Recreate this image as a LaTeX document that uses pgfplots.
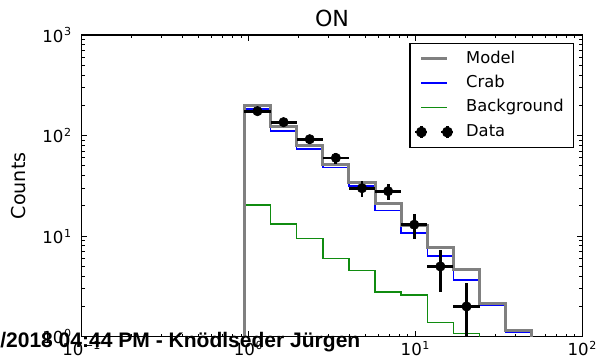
\documentclass[border=0pt]{standalone}
\usepackage{fontspec}
\setmainfont{DejaVu Sans}
\newfontfamily\wmfont{Liberation Sans}
\usepackage{pgfplots}
\pgfplotsset{compat=1.18}
\definecolor{mgray}{RGB}{128,128,128}
\definecolor{mblue}{RGB}{0,0,255}
\definecolor{mgreen}{RGB}{16,140,16}
\newcommand{\tl}[1]{\fontsize{12}{14}\selectfont 10\kern0.4pt\textsuperscript{#1}}
\pgfplotsset{
  legmodel/.style={legend image code/.code={\draw[mgray, line width=2.2bp] (0bp,0bp)--(18.7bp,0bp); \path (0bp,0bp) (23bp,0bp);}},
  legcrab/.style={legend image code/.code={\draw[mblue, line width=1.2bp] (0bp,0bp)--(18.7bp,0bp); \path (0bp,0bp) (23bp,0bp);}},
  legbg/.style={legend image code/.code={\draw[mgreen, line width=1.2bp] (0bp,0bp)--(18.7bp,0bp); \path (0bp,0bp) (23bp,0bp);}},
  legdata/.style={legend image code/.code={
    \draw[overlay, black, line width=1.6bp] (-4.3bp,0bp)--(4.3bp,0bp) (0bp,-4.3bp)--(0bp,4.3bp) (14.4bp,0bp)--(23bp,0bp) (18.7bp,-4.3bp)--(18.7bp,4.3bp);
    \fill[overlay, black] (0bp,0bp) circle[radius=3.4bp] (18.7bp,0bp) circle[radius=3.4bp];
    \path (0bp,0bp) (23bp,0bp);}},
}

\pgfplotstableread{
x y
0.9441 0.9
0.9441 198
1.3537 122
1.9419 80.5
2.7855 51.8
3.9945 34.3
5.7280 20.9
8.2147 12.7
11.783 7.67
16.898 4.68
24.235 2.16
34.754 1.15
49.839 1.15
49.839 0.9
}\modeltab

\pgfplotstableread{
x y
0.9441 0.9
0.9441 184
1.3537 111.5
1.9419 73.5
2.7855 48.0
3.9945 31.5
5.7280 17.9
8.2147 10.7
11.783 6.37
16.898 3.68
24.235 2.08
34.754 1.10
49.839 1.10
49.839 0.9
}\crabtab

\pgfplotstableread{
x y
0.9441 0.9
0.9441 20.4
1.3537 13.2
1.9419 9.5
2.7855 6.02
3.9945 4.54
5.7280 2.78
8.2147 2.60
11.783 1.38
16.898 1.08
24.235 0.5
34.754 0.2
49.839 0.2
}\bgtab

\pgfplotstableread{
x y exm exp eym eyp
1.1305 175 0.1864 0.2232 13.23 13.23
1.6214 136 0.2677 0.3205 11.66 11.66
2.3255 92  0.3836 0.4600 9.59 9.59
3.3355 60  0.5500 0.6590 7.75 7.75
4.7836 30  0.7891 0.9444 5.48 5.48
6.8613 28  1.1333 1.3534 5.29 5.29
9.8379 13  1.6232 1.9451 3.61 3.61
14.111 5   2.328  2.787  2.24 2.24
20.237 2   3.339  3.998  1.41 1.41
}\datatab

\begin{document}
\begin{tikzpicture}
\path[use as bounding box] (-58.8bp,-18.9bp) rectangle (372.4bp,242.4bp);
\begin{axis}[
  scale only axis, width=360.4bp, height=217.2bp,
  xmode=log, ymode=log,
  xmin=0.1, xmax=100, ymin=1, ymax=1000,
  xtick={0.1,1,10,100},
  xticklabels={\tl{−1},\tl{0},\tl{1},\tl{2}},
  ytick={1,10,100,1000},
  yticklabels={\tl{0},\tl{1},\tl{2},\tl{3}},
  yticklabel style={xshift=-3.6bp},
  minor xtick={0.2,0.3,0.4,0.5,0.6,0.7,0.8,0.9,2,3,4,5,6,7,8,9,20,30,40,50,60,70,80,90},
  minor ytick={2,3,4,5,6,7,8,9,20,30,40,50,60,70,80,90,200,300,400,500,600,700,800,900},
  major tick length=4bp, minor tick length=2.2bp,
  every tick/.style={black, line width=0.6bp},
  axis line style={line width=1bp},
  legend cell align=left,
  legend style={at={(axis description cs:0.9834,0.9747)}, anchor=north east, draw=black, line width=1bp, fill=white,
    font=\fontsize{11.8}{14}\selectfont, row sep=6.6bp, inner xsep=7bp, inner ysep=5.6bp,
    nodes={inner sep=0pt, text height=8.6bp, text depth=2.4bp},
    /tikz/every odd column/.append style={column sep=8.7bp}},
]
\addlegendimage{legmodel}
\addlegendentry{Model}
\addlegendimage{legcrab}
\addlegendentry{Crab}
\addlegendimage{legbg}
\addlegendentry{Background}
\addlegendimage{legdata}
\addlegendentry{Data}

\addplot[mblue, line width=1.1bp, const plot, forget plot] table[x=x,y=y] {\crabtab};
\addplot[mgreen, line width=1.1bp, const plot, forget plot] table[x=x,y=y] {\bgtab};
\addplot[mgray, line width=2.2bp, const plot, forget plot] table[x=x,y=y] {\modeltab};
\addplot[black, only marks, mark=*, mark size=3.4bp, forget plot,
  error bars/.cd, x dir=both, x explicit, y dir=both, y explicit,
  error mark=none, error bar style={line width=2bp, black}]
  table[x=x, y=y, x error plus=exp, x error minus=exm, y error plus=eyp, y error minus=eym] {\datatab};
\end{axis}
\node[anchor=base, inner sep=0pt, font=\fontsize{16}{19}\selectfont] at (180.2bp,223.5bp) {ON};
\node[rotate=90, anchor=base, inner sep=0pt, font=\fontsize{13.8}{16}\selectfont] at (-40.8bp,108.6bp) {Counts};
\node[anchor=base west, inner sep=0pt, font=\wmfont\bfseries\fontsize{15.2}{18}\selectfont] at (-58.8bp,-8.1bp) {/2018 04:44 PM - Knödlseder Jürgen};
\end{tikzpicture}
\end{document}
